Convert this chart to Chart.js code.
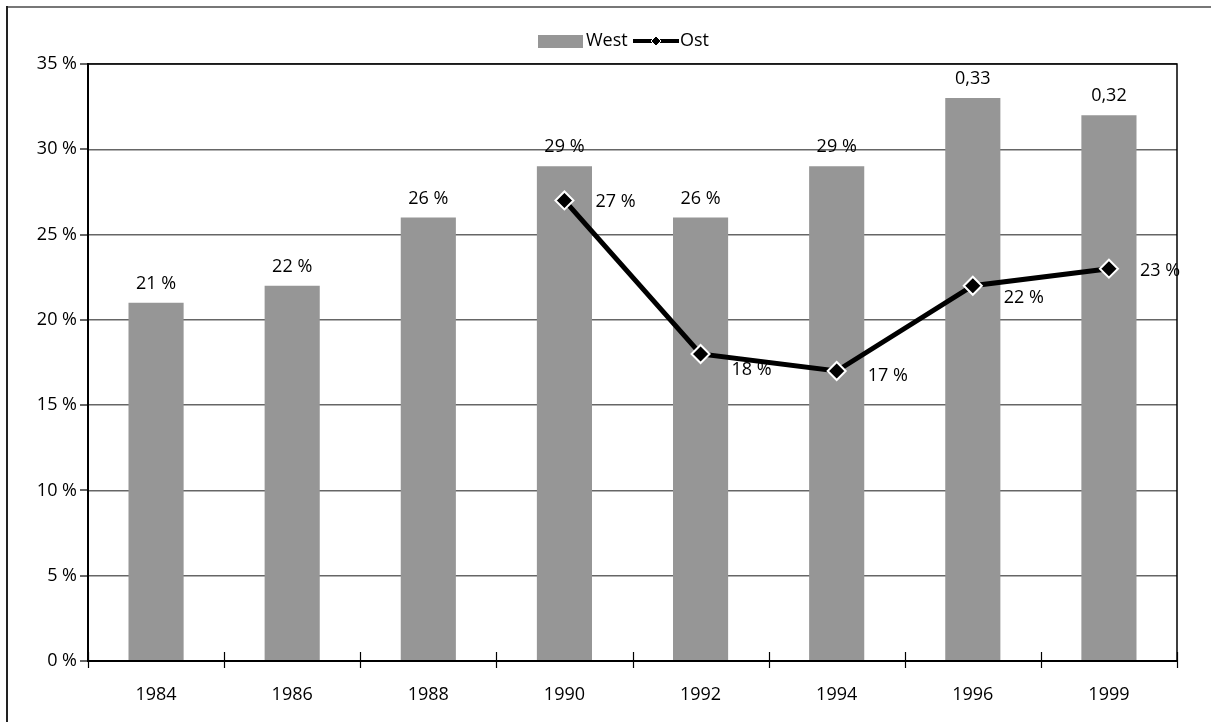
<!DOCTYPE html>
<html>
<head>
<meta charset="utf-8">
<script src="https://cdn.jsdelivr.net/npm/chart.js@4"></script>
<style>
  html, body { margin: 0; padding: 0; background: #fff; }
  #wrap { width: 1211px; height: 722px; position: relative; }
</style>
</head>
<body>
<div id="wrap"><canvas id="chart" width="1211" height="722"></canvas></div>
<script>
// Werte aus der Vorlage
const jahre = ['1984', '1986', '1988', '1990', '1992', '1994', '1996', '1999'];
const west = [21, 22, 26, 29, 26, 29, 33, 32];
const westLabels = ['21 %', '22 %', '26 %', '29 %', '26 %', '29 %', '0,33', '0,32'];
const ost = [null, null, null, 27, 18, 17, 22, 23];
const ostLabels = [null, null, null, '27 %', '18 %', '17 %', '22 %', '23 %'];
const yTicks = [0, 5, 10, 15, 20, 25, 30, 35];

const FONT = '"Open Sans", "DejaVu Sans", sans-serif';
const FS = 18;
const GRAU = '#969696';
// vertikaler Versatz der Ost-Beschriftungen (wie im Original leicht unterschiedlich)
const ostLabelDy = [0, 0, 0, 0, 15, 4, 11, 1];

// Rahmen, Achsenstriche, Legende und Beschriftungen
const extras = {
  id: 'extras',
  afterDraw(chart) {
    const ctx = chart.ctx;
    const a = chart.chartArea;
    const ys = chart.scales.y;
    ctx.save();

    // äußerer Rahmen (oben / links)
    ctx.strokeStyle = '#777';
    ctx.lineWidth = 2;
    ctx.beginPath(); ctx.moveTo(6, 7); ctx.lineTo(1211, 7); ctx.stroke();
    ctx.strokeStyle = '#222';
    ctx.beginPath(); ctx.moveTo(7, 6); ctx.lineTo(7, 722); ctx.stroke();

    // Plotrahmen oben / rechts
    ctx.strokeStyle = '#000';
    ctx.lineWidth = 1.5;
    ctx.beginPath();
    ctx.moveTo(a.left, a.top); ctx.lineTo(a.right, a.top); ctx.lineTo(a.right, a.bottom);
    ctx.stroke();

    // Achsen
    ctx.lineWidth = 2;
    ctx.beginPath();
    ctx.moveTo(a.left, a.top - 1); ctx.lineTo(a.left, a.bottom);
    ctx.lineTo(a.right, a.bottom);
    ctx.stroke();

    // Teilstriche x (zwischen Kategorien)
    ctx.lineWidth = 1.2;
    const step = (a.right - a.left) / jahre.length;
    for (let i = 0; i <= jahre.length; i++) {
      const x = Math.round(a.left + i * step) + 0.5;
      ctx.beginPath(); ctx.moveTo(x, a.bottom - 9); ctx.lineTo(x, a.bottom + 7); ctx.stroke();
    }
    // Teilstriche y
    yTicks.forEach(v => {
      const y = Math.round(ys.getPixelForValue(v));
      ctx.beginPath(); ctx.moveTo(a.left - 8, y); ctx.lineTo(a.left, y); ctx.stroke();
    });

    // Wertbeschriftungen
    ctx.fillStyle = '#000';
    ctx.font = FS + 'px ' + FONT;
    ctx.textBaseline = 'middle';
    ctx.textAlign = 'center';
    const barMeta = chart.getDatasetMeta(0);
    barMeta.data.forEach((bar, i) => {
      ctx.fillText(westLabels[i], bar.x, bar.y - 19);
    });
    ctx.textAlign = 'left';
    const lineMeta = chart.getDatasetMeta(1);
    lineMeta.data.forEach((pt, i) => {
      if (ostLabels[i] == null) return;
      ctx.fillText(ostLabels[i], pt.x + 31, pt.y + 1 + ostLabelDy[i]);
    });

    // Legende
    const ly = 41;
    ctx.fillStyle = GRAU;
    ctx.fillRect(538, ly - 6, 45, 13);
    ctx.fillStyle = '#000';
    ctx.fillText(chart.data.datasets[0].label, 586, ly);
    ctx.strokeStyle = '#000';
    ctx.lineWidth = 4;
    ctx.beginPath(); ctx.moveTo(633, ly); ctx.lineTo(679, ly); ctx.stroke();
    ctx.beginPath();
    ctx.moveTo(656, ly - 5); ctx.lineTo(661, ly); ctx.lineTo(656, ly + 5); ctx.lineTo(651, ly);
    ctx.closePath();
    ctx.fillStyle = '#000'; ctx.fill();
    ctx.strokeStyle = '#fff'; ctx.lineWidth = 1; ctx.stroke();
    ctx.fillStyle = '#000';
    ctx.fillText(chart.data.datasets[1].label, 680, ly);

    ctx.restore();
  }
};

new Chart(document.getElementById('chart'), {
  data: {
    labels: jahre,
    datasets: [
      {
        type: 'bar',
        label: 'West',
        data: west,
        backgroundColor: GRAU,
        borderWidth: 0,
        categoryPercentage: 1,
        barPercentage: 0.405,
        order: 2
      },
      {
        type: 'line',
        label: 'Ost',
        data: ost,
        borderColor: '#000',
        borderWidth: 5,
        pointStyle: 'rectRot',
        pointRadius: 9,
        pointBackgroundColor: '#000',
        pointBorderColor: '#fff',
        pointBorderWidth: 2,
        spanGaps: false,
        tension: 0,
        order: 1
      }
    ]
  },
  options: {
    responsive: false,
    animation: false,
    events: [],
    layout: { padding: { top: 64, right: 34, bottom: 0, left: 0 } },
    plugins: {
      legend: { display: false },
      tooltip: { enabled: false }
    },
    scales: {
      x: {
        offset: true,
        grid: { display: false },
        border: { display: false },
        ticks: { color: '#000', font: { family: FONT, size: FS }, padding: 15, maxRotation: 0 },
        afterFit(s) { s.height = 61; }
      },
      y: {
        min: 0,
        max: 35,
        border: { display: false },
        grid: { color: '#666', lineWidth: 1.5, drawTicks: false },
        afterBuildTicks(s) { s.ticks = yTicks.map(v => ({ value: v })); },
        ticks: {
          color: '#000',
          font: { family: FONT, size: FS },
          padding: 11,
          callback: v => v + ' %'
        },
        afterFit(s) { s.width = 88; }
      }
    }
  },
  plugins: [extras]
});
</script>
</body>
</html>
